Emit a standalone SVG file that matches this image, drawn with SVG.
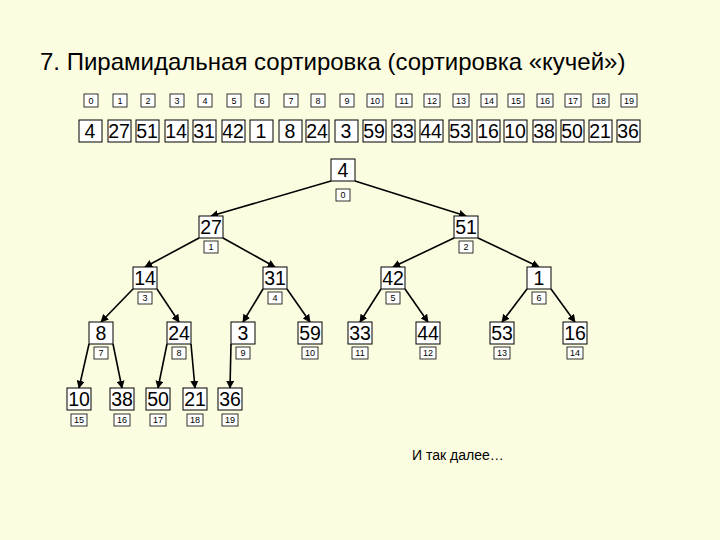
<svg xmlns="http://www.w3.org/2000/svg" width="720" height="540" viewBox="0 0 720 540">
<style>
text{font-family:"Liberation Sans",Arial,sans-serif;fill:#000}
.v rect{fill:#fff;stroke:#000;stroke-width:1}
.v text{font-size:19.5px;text-anchor:middle}
.i rect{fill:#fff;stroke:#000;stroke-width:0.8}
.i text{font-size:9px;text-anchor:middle}
.e line{stroke:#000;stroke-width:1.6;marker-end:url(#a)}
</style>
<defs>
<marker id="a" viewBox="0 0 10 10" refX="9" refY="5" markerWidth="5" markerHeight="5" orient="auto"><path d="M0,0L10,5L0,10z" fill="#000"/></marker>
</defs>
<rect width="720" height="540" fill="#fcfce0"/>
<text x="40" y="70" font-size="24">7. Пирамидальная сортировка (сортировка «кучей»)</text>
<g id="array">
<g class="i">
<rect x="84" y="94" width="14" height="13"/><text x="91" y="104">0</text>
<rect x="113" y="94" width="14" height="13"/><text x="120" y="104">1</text>
<rect x="141" y="94" width="14" height="13"/><text x="148" y="104">2</text>
<rect x="170" y="94" width="14" height="13"/><text x="177" y="104">3</text>
<rect x="198" y="94" width="14" height="13"/><text x="205" y="104">4</text>
<rect x="227" y="94" width="14" height="13"/><text x="234" y="104">5</text>
<rect x="255" y="94" width="14" height="13"/><text x="262" y="104">6</text>
<rect x="284" y="94" width="14" height="13"/><text x="291" y="104">7</text>
<rect x="311" y="94" width="14" height="13"/><text x="318" y="104">8</text>
<rect x="340" y="94" width="14" height="13"/><text x="347" y="104">9</text>
<rect x="367" y="94" width="16" height="13"/><text x="375" y="104">10</text>
<rect x="396" y="94" width="16" height="13"/><text x="404" y="104">11</text>
<rect x="424" y="94" width="16" height="13"/><text x="432" y="104">12</text>
<rect x="453" y="94" width="16" height="13"/><text x="461" y="104">13</text>
<rect x="481" y="94" width="16" height="13"/><text x="489" y="104">14</text>
<rect x="508" y="94" width="16" height="13"/><text x="516" y="104">15</text>
<rect x="537" y="94" width="16" height="13"/><text x="545" y="104">16</text>
<rect x="565" y="94" width="16" height="13"/><text x="573" y="104">17</text>
<rect x="593" y="94" width="16" height="13"/><text x="601" y="104">18</text>
<rect x="621" y="94" width="16" height="13"/><text x="629" y="104">19</text>
</g>
<g class="v">
<rect x="79" y="120" width="23" height="22"/><text x="90" y="138">4</text>
<rect x="108" y="120" width="23" height="22"/><text x="119" y="138">27</text>
<rect x="136" y="120" width="23" height="22"/><text x="147" y="138">51</text>
<rect x="165" y="120" width="23" height="22"/><text x="176" y="138">14</text>
<rect x="193" y="120" width="23" height="22"/><text x="204" y="138">31</text>
<rect x="222" y="120" width="23" height="22"/><text x="233" y="138">42</text>
<rect x="250" y="120" width="23" height="22"/><text x="261" y="138">1</text>
<rect x="279" y="120" width="23" height="22"/><text x="290" y="138">8</text>
<rect x="306" y="120" width="23" height="22"/><text x="317" y="138">24</text>
<rect x="335" y="120" width="23" height="22"/><text x="346" y="138">3</text>
<rect x="363" y="120" width="23" height="22"/><text x="374" y="138">59</text>
<rect x="392" y="120" width="23" height="22"/><text x="403" y="138">33</text>
<rect x="420" y="120" width="23" height="22"/><text x="431" y="138">44</text>
<rect x="449" y="120" width="23" height="22"/><text x="460" y="138">53</text>
<rect x="477" y="120" width="23" height="22"/><text x="488" y="138">16</text>
<rect x="504" y="120" width="23" height="22"/><text x="515" y="138">10</text>
<rect x="533" y="120" width="23" height="22"/><text x="544" y="138">38</text>
<rect x="561" y="120" width="23" height="22"/><text x="572" y="138">50</text>
<rect x="589" y="120" width="23" height="22"/><text x="600" y="138">21</text>
<rect x="617" y="120" width="23" height="22"/><text x="628" y="138">36</text>
</g>
</g>
<g id="connectors" class="e">
<line x1="331" y1="181" x2="211" y2="216"/>
<line x1="355" y1="181" x2="466" y2="216"/>
<line x1="199" y1="238" x2="145" y2="267"/>
<line x1="223" y1="238" x2="275" y2="267"/>
<line x1="454" y1="238" x2="393" y2="267"/>
<line x1="478" y1="238" x2="539" y2="267"/>
<line x1="133" y1="289" x2="101" y2="322"/>
<line x1="157" y1="289" x2="179" y2="322"/>
<line x1="263" y1="289" x2="243" y2="322"/>
<line x1="287" y1="289" x2="310" y2="322"/>
<line x1="381" y1="289" x2="360" y2="322"/>
<line x1="405" y1="289" x2="428" y2="322"/>
<line x1="527" y1="289" x2="502" y2="322"/>
<line x1="551" y1="289" x2="575" y2="322"/>
<line x1="89" y1="344" x2="79" y2="388"/>
<line x1="113" y1="344" x2="122" y2="388"/>
<line x1="167" y1="344" x2="158" y2="388"/>
<line x1="191" y1="344" x2="195" y2="388"/>
<line x1="231" y1="344" x2="230" y2="388"/>
</g>
<g id="n0" class="v"><rect x="331" y="159" width="24" height="22"/><text x="343" y="177">4</text><g class="i"><rect x="336" y="189" width="14" height="12"/><text x="343" y="198">0</text></g></g>
<g id="n1" class="v"><rect x="199" y="216" width="24" height="22"/><text x="211" y="234">27</text><g class="i"><rect x="204" y="241" width="14" height="12"/><text x="211" y="250">1</text></g></g>
<g id="n2" class="v"><rect x="454" y="216" width="24" height="22"/><text x="466" y="234">51</text><g class="i"><rect x="459" y="241" width="14" height="12"/><text x="466" y="250">2</text></g></g>
<g id="n3" class="v"><rect x="133" y="267" width="24" height="22"/><text x="145" y="285">14</text><g class="i"><rect x="138" y="292" width="14" height="12"/><text x="145" y="301">3</text></g></g>
<g id="n4" class="v"><rect x="263" y="267" width="24" height="22"/><text x="275" y="285">31</text><g class="i"><rect x="268" y="292" width="14" height="12"/><text x="275" y="301">4</text></g></g>
<g id="n5" class="v"><rect x="381" y="267" width="24" height="22"/><text x="393" y="285">42</text><g class="i"><rect x="386" y="292" width="14" height="12"/><text x="393" y="301">5</text></g></g>
<g id="n6" class="v"><rect x="527" y="267" width="24" height="22"/><text x="539" y="285">1</text><g class="i"><rect x="532" y="292" width="14" height="12"/><text x="539" y="301">6</text></g></g>
<g id="n7" class="v"><rect x="89" y="322" width="24" height="22"/><text x="101" y="340">8</text><g class="i"><rect x="94" y="347" width="14" height="12"/><text x="101" y="356">7</text></g></g>
<g id="n8" class="v"><rect x="167" y="322" width="24" height="22"/><text x="179" y="340">24</text><g class="i"><rect x="172" y="347" width="14" height="12"/><text x="179" y="356">8</text></g></g>
<g id="n9" class="v"><rect x="231" y="322" width="24" height="22"/><text x="243" y="340">3</text><g class="i"><rect x="236" y="347" width="14" height="12"/><text x="243" y="356">9</text></g></g>
<g id="n10" class="v"><rect x="298" y="322" width="24" height="22"/><text x="310" y="340">59</text><g class="i"><rect x="302" y="347" width="16" height="12"/><text x="310" y="356">10</text></g></g>
<g id="n11" class="v"><rect x="348" y="322" width="24" height="22"/><text x="360" y="340">33</text><g class="i"><rect x="352" y="347" width="16" height="12"/><text x="360" y="356">11</text></g></g>
<g id="n12" class="v"><rect x="416" y="322" width="24" height="22"/><text x="428" y="340">44</text><g class="i"><rect x="420" y="347" width="16" height="12"/><text x="428" y="356">12</text></g></g>
<g id="n13" class="v"><rect x="490" y="322" width="24" height="22"/><text x="502" y="340">53</text><g class="i"><rect x="494" y="347" width="16" height="12"/><text x="502" y="356">13</text></g></g>
<g id="n14" class="v"><rect x="563" y="322" width="24" height="22"/><text x="575" y="340">16</text><g class="i"><rect x="567" y="347" width="16" height="12"/><text x="575" y="356">14</text></g></g>
<g id="n15" class="v"><rect x="67" y="388" width="24" height="22"/><text x="79" y="406">10</text><g class="i"><rect x="71" y="414" width="16" height="12"/><text x="79" y="423">15</text></g></g>
<g id="n16" class="v"><rect x="110" y="388" width="24" height="22"/><text x="122" y="406">38</text><g class="i"><rect x="114" y="414" width="16" height="12"/><text x="122" y="423">16</text></g></g>
<g id="n17" class="v"><rect x="146" y="388" width="24" height="22"/><text x="158" y="406">50</text><g class="i"><rect x="150" y="414" width="16" height="12"/><text x="158" y="423">17</text></g></g>
<g id="n18" class="v"><rect x="183" y="388" width="24" height="22"/><text x="195" y="406">21</text><g class="i"><rect x="187" y="414" width="16" height="12"/><text x="195" y="423">18</text></g></g>
<g id="n19" class="v"><rect x="218" y="388" width="24" height="22"/><text x="230" y="406">36</text><g class="i"><rect x="222" y="414" width="16" height="12"/><text x="230" y="423">19</text></g></g>
<text x="412" y="460" font-size="14">И так далее…</text>
</svg>
